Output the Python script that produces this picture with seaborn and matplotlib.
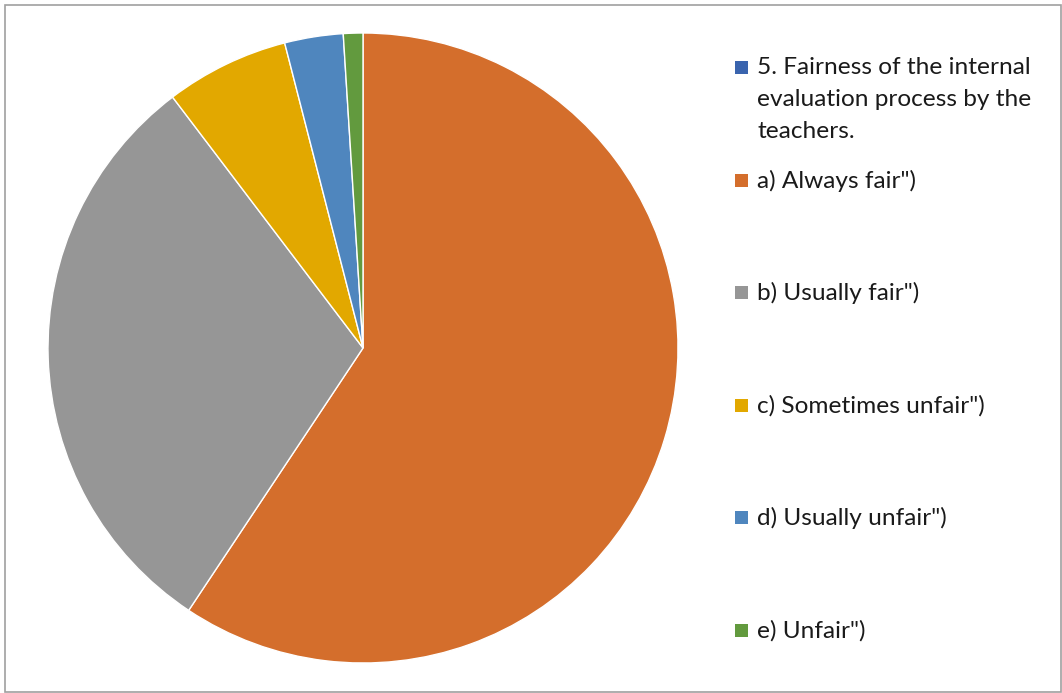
import matplotlib
matplotlib.use("Agg")
import matplotlib.pyplot as plt
from matplotlib.patches import Rectangle
import seaborn as sns

sns.set_theme(style="white")
plt.rcParams['font.family'] = ['Lato', 'DejaVu Sans']

# Data
series_title = "5. Fairness of the internal\nevaluation process by the\nteachers."
categories = ['a) Always fair")', 'b) Usually fair")', 'c) Sometimes unfair")',
              'd) Usually unfair")', 'e) Unfair")']
values = [178, 91, 19, 9, 3]
colors = ["#D46E2C", "#969696", "#E2A800", "#4F86BE", "#629A3E"]
title_color = "#3A64AE"

W, H = 1062, 693
fig = plt.figure(figsize=(W / 100, H / 100), dpi=100)
fig.patch.set_facecolor("white")

# pie axes: center (363,348), radius 315 px
cx, cy, r = 363, 348, 315
ax = fig.add_axes([(cx - r) / W, (H - cy - r) / H, 2 * r / W, 2 * r / H])
ax.pie(values, colors=colors, startangle=90, counterclock=False,
       wedgeprops=dict(edgecolor="white", linewidth=1.0))
ax.set_aspect("equal")
ax.set_xlim(-1, 1)
ax.set_ylim(-1, 1)
ax.axis("off")

# legend (manual)
fs = 17.6
entries = [(series_title, title_color)] + list(zip(categories, colors))
ys = [67, 180, 292, 405, 517, 630]
sq = 13
for (label, col), y in zip(entries, ys):
    fig.patches.append(Rectangle(((735) / W, (H - y - sq / 2) / H), sq / W, sq / H,
                                 transform=fig.transFigure, facecolor=col,
                                 edgecolor="none"))
    fig.text(757 / W, (H - y + 10) / H, label, fontsize=fs, color="#1a1a1a",
             ha="left", va="top", linespacing=1.65)

# outer border
fig.patches.append(Rectangle((4.5 / W, 1.5 / H), (1061 - 4.5) / W, (691 - 4.5) / H,
                             transform=fig.transFigure, facecolor="none",
                             edgecolor="#A0A0A0", linewidth=1.2))

fig.savefig("out.png", dpi=100, facecolor="white")
